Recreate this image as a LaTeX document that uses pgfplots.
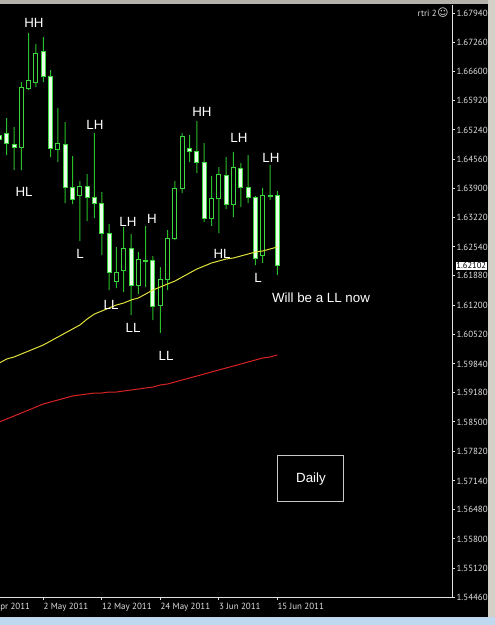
\documentclass[border=0pt]{standalone}
\usepackage{pgfplots}
\pgfplotsset{compat=1.18}
\usepackage{pgfplotstable}
\usepackage{fontspec}
\setmainfont{Liberation Sans}
\newfontfamily\djv{DejaVu Sans}
\newfontfamily\ptsans{PT Sans}
\definecolor{wick}{RGB}{40,190,40}
\definecolor{candleedge}{RGB}{60,215,60}
\definecolor{bearfill}{RGB}{232,255,232}
\definecolor{maY}{RGB}{225,225,60}
\definecolor{maR}{RGB}{215,35,35}
\definecolor{axgray}{RGB}{225,225,225}
\definecolor{ticktext}{RGB}{225,225,225}
\definecolor{winGray}{RGB}{212,208,200}
\definecolor{winBlue}{RGB}{190,216,240}
\definecolor{boxgray}{RGB}{200,200,200}

\pgfplotstableread{
i o h l c
0 1.65124 1.65193 1.64939 1.65009
1 1.65170 1.65516 1.64662 1.64939
2 1.64916 1.65309 1.64316 1.64847
3 1.64847 1.66347 1.64316 1.66232
4 1.66209 1.67478 1.66163 1.66371
5 1.66347 1.67225 1.66232 1.67017
6 1.67063 1.67386 1.66347 1.66486
7 1.66486 1.66624 1.64616 1.64824
8 1.64801 1.65747 1.64501 1.64939
9 1.64916 1.65424 1.63554 1.63901
10 1.63901 1.64639 1.63531 1.63624
11 1.63739 1.64062 1.62677 1.63947
12 1.63947 1.64224 1.63139 1.63693
13 1.63693 1.65170 1.63208 1.63554
14 1.63554 1.63808 1.62354 1.62862
15 1.62862 1.63070 1.61546 1.61939
16 1.61754 1.62539 1.61592 1.61962
17 1.62008 1.63001 1.61500 1.62493
18 1.62493 1.62839 1.60969 1.61639
19 1.61639 1.62423 1.61454 1.62262
20 1.62239 1.63024 1.61616 1.62193
21 1.62216 1.62331 1.60854 1.61177
22 1.61200 1.62077 1.60554 1.61800
23 1.61800 1.62931 1.61546 1.62724
24 1.62724 1.64062 1.62700 1.63878
25 1.63878 1.65170 1.63785 1.65101
26 1.64824 1.65124 1.64501 1.64732
27 1.64732 1.65447 1.64247 1.64501
28 1.64501 1.64939 1.63116 1.63208
29 1.63208 1.64178 1.63024 1.63670
30 1.63670 1.64385 1.62862 1.64224
31 1.64178 1.64616 1.63416 1.63531
32 1.63531 1.64732 1.63231 1.64385
33 1.64362 1.64478 1.63462 1.63924
34 1.63924 1.64662 1.63554 1.63693
35 1.63693 1.63716 1.62123 1.62285
36 1.62354 1.63901 1.62170 1.63739
37 1.63716 1.64432 1.63624 1.63739
38 1.63739 1.63831 1.61893 1.62102
}\candles

\pgfplotstableread{
i y r
0 1.59861 1.58500
1 1.59954 1.58569
2 1.60000 1.58638
3 1.60069 1.58707
4 1.60138 1.58776
5 1.60208 1.58846
6 1.60277 1.58915
7 1.60369 1.58961
8 1.60461 1.59007
9 1.60554 1.59053
10 1.60646 1.59100
11 1.60738 1.59123
12 1.60877 1.59146
13 1.60992 1.59169
14 1.61062 1.59169
15 1.61131 1.59192
16 1.61200 1.59192
17 1.61246 1.59215
18 1.61316 1.59238
19 1.61362 1.59261
20 1.61454 1.59284
21 1.61546 1.59307
22 1.61616 1.59354
23 1.61685 1.59377
24 1.61754 1.59423
25 1.61846 1.59469
26 1.61939 1.59515
27 1.62031 1.59561
28 1.62100 1.59607
29 1.62170 1.59654
30 1.62216 1.59700
31 1.62262 1.59746
32 1.62285 1.59792
33 1.62331 1.59838
34 1.62377 1.59884
35 1.62423 1.59931
36 1.62447 1.59977
37 1.62493 1.60000
38 1.62539 1.60046
}\mas

\pgfplotsset{
  candleaxis/.style={at={(0pt,-447.75pt)}, anchor=south west, scale only axis,
    width=339pt, height=444pt, xmin=0.084, xmax=61.88, ymin=1.5446, ymax=1.68125}
}
\tikzset{
  ticktextstyle/.style={font=\ptsans\fontsize{6.7}{8}\selectfont, text=ticktext},
  ann/.style={font=\fontsize{10}{12}\selectfont, text=white, inner sep=0pt}
}

\begin{document}
\begin{tikzpicture}
\useasboundingbox (0,0) rectangle (371.25pt,-468.75pt);
\fill[black] (0,0) rectangle (371.25pt,-468.75pt);

\begin{axis}[candleaxis, hide axis, ybar stacked]
\addplot[draw=none, fill=none, bar width=3pt] table[x=i, y=l] {\candles};
\addplot[fill=wick, draw=none, bar width=0.75pt] table[x=i, y expr={min(\thisrow{o},\thisrow{c})-\thisrow{l}}] {\candles};
\addplot[fill=black, draw=candleedge, line width=0.75pt, bar width=3pt] table[x=i, y expr={max(\thisrow{c}-\thisrow{o},0)}] {\candles};
\addplot[fill=bearfill, draw=candleedge, line width=0.75pt, bar width=3pt] table[x=i, y expr={max(\thisrow{o}-\thisrow{c},0)}] {\candles};
\addplot[fill=wick, draw=none, bar width=0.75pt] table[x=i, y expr={\thisrow{h}-max(\thisrow{o},\thisrow{c})}] {\candles};
\end{axis}

\begin{axis}[candleaxis, clip=false,
  axis x line*=bottom, axis y line*=right,
  axis line style={draw=axgray, -, line width=0.75pt},
  tick align=outside, major tick length=2.25pt,
  tick style={draw=axgray, line width=0.75pt},
  xtick={6,14,22,30,38},
  xticklabels={2 May 2011,12 May 2011,24 May 2011,3 Jun 2011,15 Jun 2011},
  xticklabel style={ticktextstyle, anchor=north west, inner sep=1pt, xshift=-1pt, yshift=-1.5pt},
  ytick={1.5446,1.5512,1.5580,1.5648,1.5714,1.5782,1.5850,1.5918,1.5984,1.6052,1.6120,1.6188,1.6254,1.6322,1.6390,1.6456,1.6524,1.6592,1.6660,1.6726,1.6794},
  yticklabels={1.54460,1.55120,1.55800,1.56480,1.57140,1.57820,1.58500,1.59180,1.59840,1.60520,1.61200,1.61880,1.62540,1.63220,1.63900,1.64560,1.65240,1.65920,1.66600,1.67260,1.67940},
  yticklabel style={ticktextstyle, anchor=west, inner sep=1pt},
]
\addplot[maY, line width=0.75pt] table[x=i, y=y] {\mas};
\addplot[maR, line width=0.75pt] table[x=i, y=r] {\mas};

\node[ann] at (axis cs:4.73,1.67709) {HH};
\node[ann] at (axis cs:3.37,1.63808) {HL};
\node[ann] at (axis cs:13.07,1.65355) {LH};
\node[ann] at (axis cs:11.02,1.62377) {L};
\node[ann] at (axis cs:17.58,1.63116) {LH};
\node[ann] at (axis cs:20.87,1.63185) {H};
\node[ann] at (axis cs:15.26,1.61200) {LL};
\node[ann] at (axis cs:18.27,1.60669) {LL};
\node[ann] at (axis cs:22.78,1.60023) {LL};
\node[ann] at (axis cs:27.70,1.65655) {HH};
\node[ann] at (axis cs:32.76,1.65055) {LH};
\node[ann] at (axis cs:37.13,1.64593) {LH};
\node[ann] at (axis cs:30.44,1.62377) {HL};
\node[ann] at (axis cs:35.36,1.61823) {L};
\node[ann] at (axis cs:43.97,1.61362) {Will be a LL now};
\node[ann, draw=boxgray, line width=0.75pt, minimum width=49.5pt, minimum height=34.5pt] at (axis cs:42.6,1.57184) {Daily};

\node[ticktextstyle, anchor=north west, inner sep=1pt, xshift=-2.5pt, yshift=-3.75pt] at (axis cs:-2,1.5446) {20 Apr 2011};
\node[fill=white, text=black, font=\ptsans\fontsize{6.4}{8}\selectfont, inner sep=0.6pt, anchor=west, xshift=2.5pt] at (axis cs:61.88,1.62102) {1.62102};
\end{axis}

\begin{scope}[x=0.75pt, y=-0.75pt]
\fill[winGray!85!black] (0,0) rectangle (495,4);
\fill[winGray] (488,0) rectangle (495,625);
\fill[winBlue] (0,617) rectangle (495,625);
\node[ticktextstyle, anchor=east, inner sep=0pt] at (437,13) {rtri 2};
\node[text=ticktext, font=\djv\fontsize{8}{9}\selectfont, inner sep=0pt] at (443,12.5) {☺};
\end{scope}
\end{tikzpicture}
\end{document}
